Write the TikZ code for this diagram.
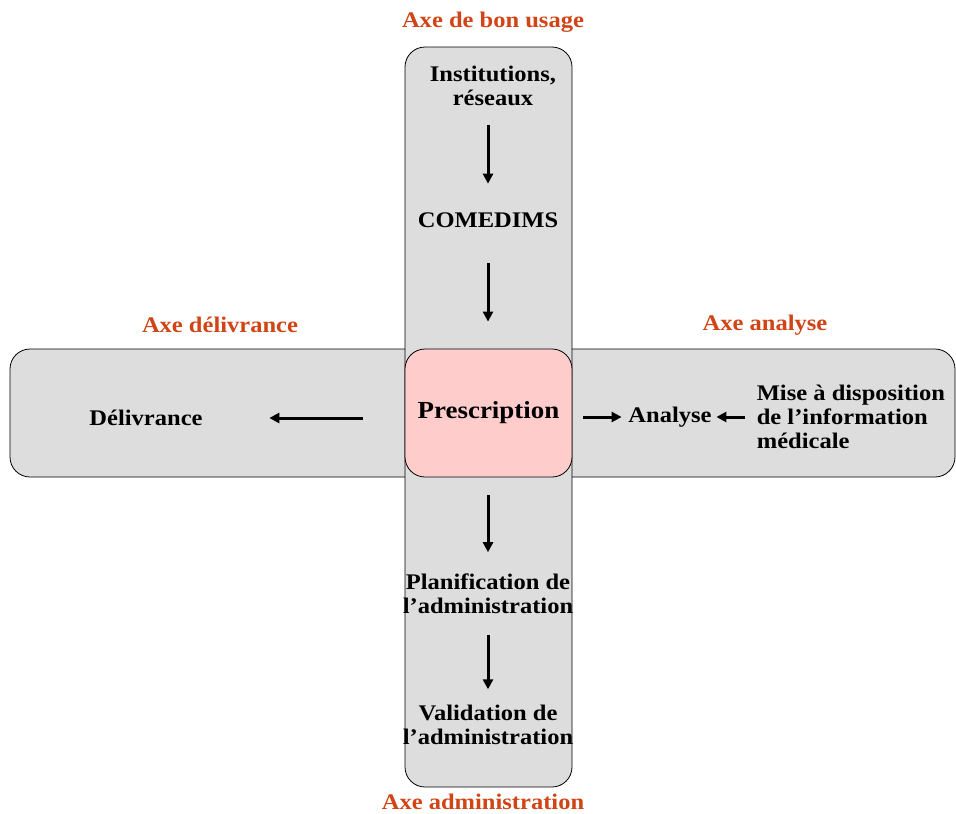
\documentclass[tikz,border=0pt]{standalone}
\usepackage{fontspec}
\setmainfont{Liberation Serif}[FakeStretch=1.1]
\usepackage{xcolor}
\usepackage{tikz}
\usetikzlibrary{arrows.meta}

\definecolor{axered}{RGB}{208,68,22}
\definecolor{bargray}{RGB}{221,221,221}
\definecolor{prespink}{RGB}{255,204,204}

\begin{document}
\begin{tikzpicture}[x=1pt, y=-1pt, -{Triangle[length=10pt,width=10pt]}, line width=3pt, align=center,
  font=\fontsize{22.3}{24}\selectfont\bfseries,
  axe/.style={text=axered},
  bar/.style={draw, line width=0.8pt, fill=bargray, rounded corners=20pt, -}]
\useasboundingbox (0,0) rectangle (956,814);
\draw[bar] (10,349) rectangle (955,477);
\draw[bar] (405,47) rectangle (572,787);
\node[draw, line width=0.8pt, fill=prespink, rounded corners=20pt, minimum width=167pt, minimum height=128pt, font=\fontsize{24.5}{28}\selectfont\bfseries] at (488.5,413) (pres) {Prescription};
\node[axe] at (493,22) (axeusage) {Axe de bon usage};
\node at (493,86) (inst) {Institutions,\\réseaux};
\node at (488,220) (comedims) {COMEDIMS};
\node at (488,594) (planif) {Planification de\\l'administration};
\node at (488,725) (valid) {Validation de\\l'administration};
\node[axe] at (483,802) (axeadmin) {Axe administration};
\node[axe] at (220,325) (axedeliv) {Axe délivrance};
\node[axe] at (765,325) (axeanalyse) {Axe analyse};
\node at (146,418) (deliv) {Délivrance};
\node at (670,417) (analyse) {Analyse};
\node[anchor=west, align=left] at (752,417) (mise) {Mise à disposition\\de l'information\\médicale};
\draw[shorten <=14pt, shorten >=24pt] (inst.south -| comedims.south) -- (comedims.north);
\draw[shorten <=31pt, shorten >=27pt] (comedims) -- (pres.north -| comedims);
\draw[shorten <=18pt, shorten >=17pt] (pres.south -| planif) -- (planif);
\draw[shorten <=16pt, shorten >=11pt] (planif) -- (valid);
\draw[shorten <=42pt, shorten >=62pt] (pres.west |- deliv) -- (deliv.east);
\draw[shorten <=11pt, shorten >=2pt] (pres.east |- analyse) -- (analyse.west);
\draw[shorten <=7pt] (mise.west) -- (analyse.east);
\end{tikzpicture}
\end{document}
